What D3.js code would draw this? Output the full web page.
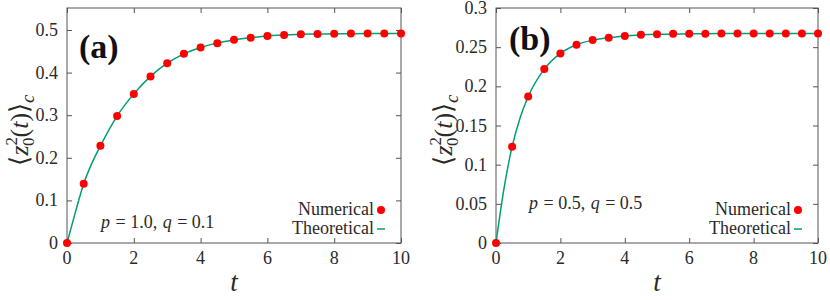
<!DOCTYPE html>
<html><head><meta charset="utf-8">
<script src="https://cdn.jsdelivr.net/npm/d3@7"></script>
</head><body style="margin:0;background:#fff">
<script>
const tValues = [0,0.5,1,1.5,2,2.5,3,3.5,4,4.5,5,5.5,6,6.5,7,7.5,8,8.5,9,9.5,10];
const numA = [0,0.139,0.228,0.298,0.350,0.391,0.422,0.444,0.459,0.469,0.477,0.482,0.486,0.488,0.490,0.4905,0.491,0.4915,0.492,0.492,0.492];
const theoTA = [0,0.25,0.5,0.75,1,1.5,2,2.5,3,3.5,4,4.5,5,5.5,6,6.5,7,7.5,8,9,10];
const theoA = [0,0.072,0.139,0.188,0.228,0.298,0.350,0.391,0.422,0.444,0.459,0.469,0.477,0.482,0.486,0.488,0.490,0.4905,0.491,0.492,0.492];
const numB = [0,0.123,0.187,0.222,0.242,0.253,0.259,0.262,0.2644,0.2657,0.2665,0.267,0.267,0.2672,0.2673,0.2674,0.2674,0.2674,0.2674,0.2674,0.2674];
const theoTB = [0,0.25,0.5,0.75,1,1.5,2,2.5,3,3.5,4,4.5,5,6,7,8,9,10];
const theoB = [0,0.070,0.123,0.160,0.187,0.222,0.242,0.253,0.259,0.262,0.2644,0.2657,0.2665,0.267,0.2673,0.2674,0.2674,0.2674];
const xTicks = [0,2,4,6,8,10];
const xLabels = ["0","2","4","6","8","10"];
const yTicksA = [0,0.1,0.2,0.3,0.4,0.5];
const yLabelsA = ["0","0.1","0.2","0.3","0.4","0.5"];
const yTicksB = [0,0.05,0.1,0.15,0.2,0.25,0.3];
const yLabelsB = ["0","0.05","0.1","0.15","0.2","0.25","0.3"];

const svg = d3.select("body").append("svg").attr("width",830).attr("height",300)
  .style("display","block");
const green = "#009e73", red = "#ff0000", axisCol = "#555", textCol = "#2a2a2a";

function T(x, y, s, size, opts={}){
  const t = svg.append("text").attr("font-family","Liberation Serif").style("font-family",'"Liberation Serif"')
    .attr("x",x).attr("y",y).attr("font-size",size).attr("fill",opts.fill||textCol).text(s);
  if (opts.anchor) t.attr("text-anchor",opts.anchor);
  if (opts.italic) t.attr("font-style","italic");
  if (opts.bold) t.attr("font-weight","bold");
  return t;
}
function lineAxis(a){
  a.select(".domain").remove();
  a.selectAll("text").remove();
  a.selectAll("line").attr("stroke",axisCol);
}

function panel(o){
  const x = d3.scaleLinear().domain([0,10]).range([o.x0,o.x1]);
  const y = d3.scaleLinear().domain([0,o.ymax]).range([o.y0,o.y1]);
  const g = svg.append("g");
  const tl = 5;
  g.append("g").attr("transform",`translate(0,${o.y0})`).call(d3.axisBottom(x).tickValues(xTicks).tickSize(-tl)).call(lineAxis);
  g.append("g").attr("transform",`translate(0,${o.y1})`).call(d3.axisTop(x).tickValues(xTicks).tickSize(-tl)).call(lineAxis);
  g.append("g").attr("transform",`translate(${o.x0},0)`).call(d3.axisLeft(y).tickValues(o.yTicks).tickSize(-tl)).call(lineAxis);
  g.append("g").attr("transform",`translate(${o.x1},0)`).call(d3.axisRight(y).tickValues(o.yTicks).tickSize(-tl)).call(lineAxis);
  xTicks.forEach((v,i)=>T(x(v), o.y0+21, xLabels[i], 18, {anchor:"middle"}));
  o.yTicks.forEach((v,i)=>T(o.x0-9, y(v)+6, o.yLabels[i], 18, {anchor:"end"}));
  g.append("rect").attr("x",o.x0).attr("y",o.y1).attr("width",o.x1-o.x0).attr("height",o.y0-o.y1)
    .attr("fill","none").attr("stroke",axisCol).attr("stroke-width",1);
  const line = d3.line().x(d=>x(d[0])).y(d=>y(d[1])).curve(d3.curveMonotoneX);
  g.append("path").datum(o.theoT.map((t,i)=>[t,o.theo[i]])).attr("d",line)
    .attr("fill","none").attr("stroke",green).attr("stroke-width",1.5);
  g.selectAll("circle.pt").data(tValues.map((t,i)=>[t,o.num[i]])).join("circle")
    .attr("cx",d=>x(d[0])).attr("cy",d=>y(d[1])).attr("r",4).attr("fill",red);
  // panel label
  T(o.lx, o.ly, o.label, 34, {bold:true, fill:"#111"});
  // annotation, pieces laid out side by side
  const parts = [["p",true],[" = "+o.p+", ",false],["q",true],[" = "+o.q,false]];
  let cx = o.ax;
  parts.forEach(([s,it])=>{
    const t = T(cx, o.ay, s, 18, {italic:it}).style("white-space","pre").attr("xml:space","preserve");
    cx += t.node().getComputedTextLength() + 1;
  });
  // legend
  T(o.legX, 215, "Numerical", 18, {anchor:"end"});
  g.append("circle").attr("cx",o.legX+7).attr("cy",210).attr("r",4).attr("fill",red);
  T(o.legX, 234, "Theoretical", 18, {anchor:"end"});
  g.append("line").attr("x1",o.legX+3).attr("x2",o.legX+11).attr("y1",229).attr("y2",229).attr("stroke",green).attr("stroke-width",1.5);
  // axis labels
  T((o.x0+o.x1)/2, 291, "t", 27, {anchor:"middle", italic:true});
  const yl = svg.append("text").attr("font-family","Liberation Serif").style("font-family",'"Liberation Serif"')
    .attr("transform",`translate(${o.ylx},${o.yly}) rotate(-90)`)
    .attr("text-anchor","middle").attr("font-size",26).attr("fill",textCol);
  yl.append("tspan").text("\u27E8");
  yl.append("tspan").attr("font-style","italic").text("z");
  yl.append("tspan").attr("font-size",17).attr("dy",-11).text("2");
  yl.append("tspan").attr("font-size",17).attr("dx",-9).attr("dy",17).text("0");
  yl.append("tspan").attr("dy",-6).text("(");
  yl.append("tspan").attr("font-style","italic").text("t");
  yl.append("tspan").text(")\u27E9");
  yl.append("tspan").attr("font-size",19).attr("font-style","italic").attr("dy",6).text("c");
}

panel({x0:67,x1:401,y0:243,y1:8,ymax:0.5516,yTicks:yTicksA,yLabels:yLabelsA,num:numA,theoT:theoTA,theo:theoA,
  label:"(a)",lx:79,ly:58,ax:101,ay:228,p:"1.0",q:"0.1",legX:374,ylx:28,yly:130});
panel({x0:496,x1:818,y0:243,y1:8,ymax:0.3,yTicks:yTicksB,yLabels:yLabelsB,num:numB,theoT:theoTB,theo:theoB,
  label:"(b)",lx:509,ly:50,ax:529,ay:209,p:"0.5",q:"0.5",legX:791,ylx:452,yly:130});
</script>
</body></html>
